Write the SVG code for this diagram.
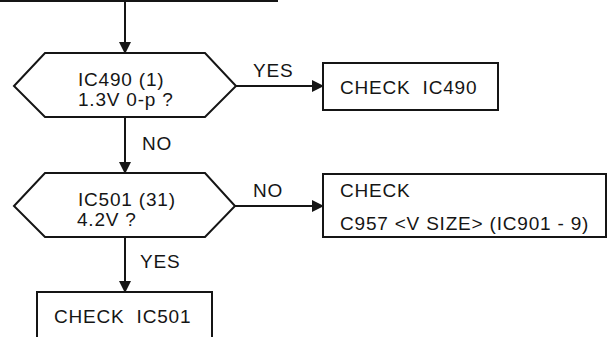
<svg xmlns="http://www.w3.org/2000/svg" width="608" height="337" viewBox="0 0 608 337">
<style>
.s{fill:#fff;stroke:#151515;stroke-width:2}
.c{fill:none;stroke:#151515;stroke-width:2}
.t{font-family:"Liberation Sans",Arial,sans-serif;font-size:19px;fill:#151515;letter-spacing:0.8px}
</style>
<defs>
<marker id="ah" markerUnits="userSpaceOnUse" markerWidth="12" markerHeight="12" refX="11" refY="6" orient="auto">
<path d="M0,0 L12,6 L0,12 Z" fill="#151515"/>
</marker>
</defs>
<rect width="608" height="337" fill="#fff"/>
<g id="connectors">
<line class="c" x1="0" y1="1" x2="278" y2="1"/>
<line class="c" x1="125" y1="1" x2="125" y2="53" marker-end="url(#ah)"/>
<line class="c" x1="236" y1="86" x2="323" y2="86" marker-end="url(#ah)"/>
<line class="c" x1="125" y1="117" x2="125" y2="173" marker-end="url(#ah)"/>
<line class="c" x1="235" y1="206" x2="323" y2="206" marker-end="url(#ah)"/>
<line class="c" x1="125" y1="237" x2="125" y2="292" marker-end="url(#ah)"/>
<text class="t" x="253" y="77">YES</text>
<text class="t" x="142" y="150">NO</text>
<text class="t" x="253" y="197">NO</text>
<text class="t" x="140" y="268">YES</text>
</g>
<g id="q1">
<polygon class="s" points="14,86 45,53 205,53 236,86 205,117 45,117"/>
<text class="t" x="78" y="86">IC490 (1)</text>
<text class="t" x="78" y="106">1.3V 0-p ?</text>
</g>
<g id="check490">
<rect class="s" x="323" y="63" width="175" height="47"/>
<text class="t" x="340" y="94" word-spacing="6">CHECK IC490</text>
</g>
<g id="q2">
<polygon class="s" points="14,206 45,173 205,173 235,206 205,237 45,237"/>
<text class="t" x="78" y="206">IC501 (31)</text>
<text class="t" x="77" y="226">4.2V ?</text>
</g>
<g id="checkC957">
<rect class="s" x="323" y="174" width="283" height="63"/>
<text class="t" x="340" y="197">CHECK</text>
<text class="t" x="340" y="230">C957 &lt;V SIZE&gt; (IC901 - 9)</text>
</g>
<g id="check501">
<rect class="s" x="37" y="292" width="175" height="60"/>
<text class="t" x="54" y="323" word-spacing="6">CHECK IC501</text>
</g>
</svg>
